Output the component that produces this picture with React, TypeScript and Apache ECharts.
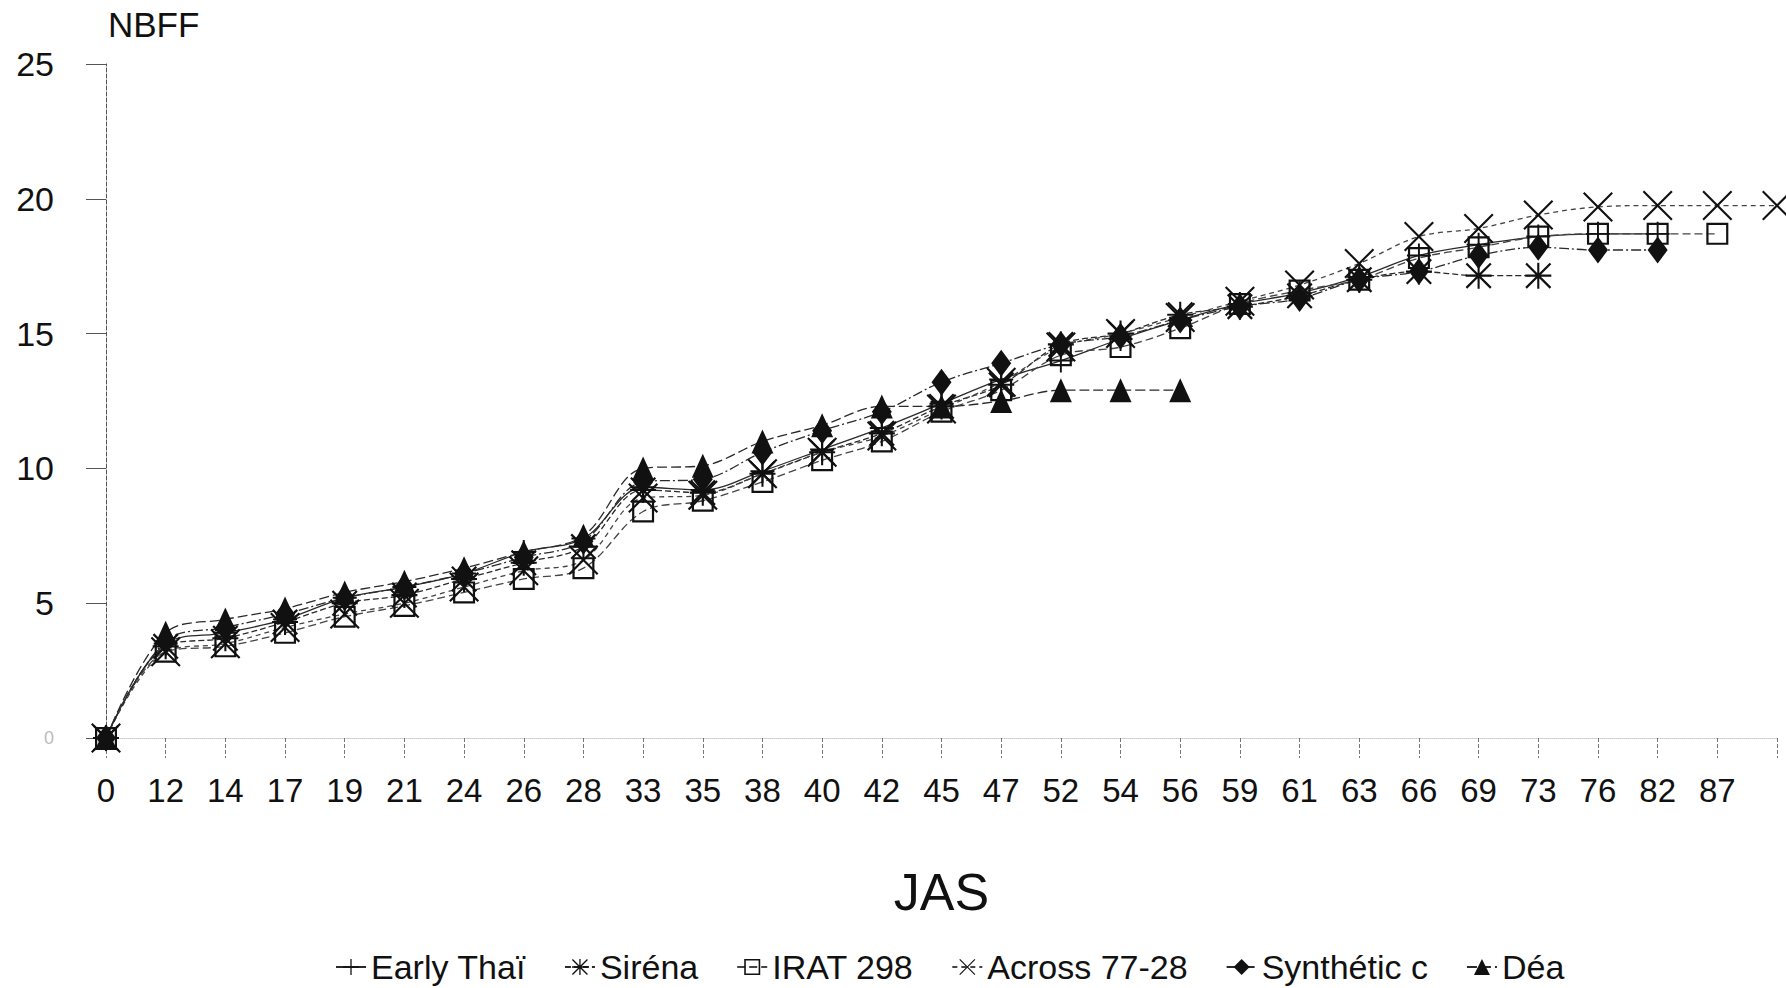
import React, { useEffect, useRef } from "react";
import * as echarts from "echarts";

const categories = ["0","12","14","17","19","21","24","26","28","33","35","38","40","42","45","47","52","54","56","59","61","63","66","69","73","76","82","87",""];
const yTicks = [0, 5, 10, 15, 20, 25];

const earlyThai = [0,3.5,3.9,4.4,5.2,5.6,6.1,6.9,7.4,9.3,9.2,9.9,10.7,11.5,12.4,13.3,14.0,14.8,15.5,16.1,16.5,17.1,17.9,18.3,18.6,18.7,18.7,null,null];
const sirena = [0,3.4,3.7,4.3,5.0,5.3,5.9,6.5,7.1,9.2,9.1,9.8,10.6,11.3,12.3,13.1,14.6,15.0,15.7,16.0,16.4,17.0,17.3,17.15,17.15,null,null,null,null];
const irat298 = [0,3.2,3.4,3.9,4.5,4.9,5.4,5.9,6.3,8.4,8.8,9.5,10.3,11.0,12.1,12.9,14.2,14.5,15.2,16.1,16.6,17.0,17.8,18.2,18.6,18.7,18.7,18.7,null];
const across7728 = [0,3.2,3.5,4.1,4.6,5.0,5.6,6.2,6.6,8.9,9.0,9.8,10.6,11.2,12.2,13.2,14.5,15.0,15.6,16.2,16.8,17.6,18.6,18.9,19.4,19.7,19.75,19.75,19.75];
const syntheticC = [0,3.6,4.1,4.6,5.2,5.6,6.1,6.7,7.3,9.5,9.6,10.6,11.4,12.1,13.2,13.9,14.6,14.9,15.5,16.0,16.3,17.0,17.3,17.9,18.2,18.1,18.1,null,null];
const dea = [0,3.9,4.4,4.8,5.4,5.8,6.3,6.9,7.5,10.0,10.1,11.0,11.6,12.3,12.3,12.5,12.9,12.9,12.9,null,null,null,null,null,null,null,null,null,null];

const FONT = "Liberation Sans, Arial, sans-serif";

const PLUS = "path://M4.6,0H5.4V4.6H10V5.4H5.4V10H4.6V5.4H0V4.6H4.6Z";
const STAR = "path://M4.6,0H5.4V10H4.6Z M0,4.6H10V5.4H0Z M0.6,0L10,9.4L9.4,10L0,0.6Z M9.4,0L10,0.6L0.6,10L0,9.4Z";
const SQUARE = "path://M0,0H10V10H0Z M1,1V9H9V1Z";
const CROSS = "path://M0,0.5L0.5,0L5,4.5L9.5,0L10,0.5L5.5,5L10,9.5L9.5,10L5,5.5L0.5,10L0,9.5L4.5,5Z";

export default function App() {
  const ref = useRef<HTMLDivElement>(null);
  useEffect(() => {
    if (!ref.current) return;
    const chart = echarts.init(ref.current, null, { renderer: "svg" });
    const mk = (name: string, data: (number | null)[], symbol: string, size: any, dash: any, color = "#2a2a2a") => ({
      name,
      type: "line",
      data,
      smooth: 0.35,
      symbol,
      symbolSize: size,
      showAllSymbol: true,
      connectNulls: false,
      lineStyle: { color, width: 1.3, type: dash },
      itemStyle: { color: "#111", borderWidth: 0 },
    });
    chart.setOption({
      animation: false,
      backgroundColor: "#fff",
      textStyle: { fontFamily: FONT },
      grid: { left: 106, right: 9, top: 64, bottom: 250, containLabel: false },
      graphic: [
        { type: "text", left: 108, top: 7, style: { text: "NBFF", fontSize: 35, fontFamily: FONT, fill: "#111" } },
      ],
      legend: {
        left: 330,
        top: 945,
        itemGap: 38,
        itemWidth: 30,
        itemHeight: 20,
        textStyle: { fontSize: 34, fontFamily: FONT, color: "#111" },
        data: ["Early Thaï", "Siréna", "IRAT 298", "Across 77-28", "Synthétic c", "Déa"],
      },
      xAxis: {
        type: "category",
        boundaryGap: false,
        data: categories,
        name: "JAS",
        nameLocation: "middle",
        nameGap: 128,
        nameTextStyle: { fontSize: 52, fontFamily: FONT, color: "#111" },
        axisLine: { show: true, lineStyle: { color: "#c8c8c8", type: "dotted", width: 1 } },
        axisTick: { show: true, length: 20, lineStyle: { color: "#777", type: "dashed", width: 1 } },
        axisLabel: { interval: 0, margin: 36, fontSize: 33, fontFamily: FONT, color: "#111" },
        splitLine: { show: false },
      },
      yAxis: {
        type: "value",
        min: 0,
        max: 25,
        interval: 5,
        axisLine: { show: true, lineStyle: { color: "#555", type: "dashed", width: 1 } },
        axisTick: { show: true, length: 20, lineStyle: { color: "#555", width: 1 } },
        axisLabel: {
          margin: 52,
          fontSize: 34,
          fontFamily: FONT,
          color: "#111",
          formatter: (v: number) => (v === 0 ? "{z|0}" : String(yTicks.includes(v) ? v : "")),
          rich: { z: { fontSize: 18, color: "#bbb", fontFamily: FONT } },
        },
        splitLine: { show: false },
      },
      series: [
        mk("Early Thaï", earlyThai, PLUS, 24, "solid"),
        mk("Siréna", sirena, STAR, 26, [6, 3]),
        mk("IRAT 298", irat298, SQUARE, 22, [8, 4], "#444"),
        mk("Across 77-28", across7728, CROSS, 30, [5, 4], "#444"),
        mk("Synthétic c", syntheticC, "diamond", [20, 27], [10, 3, 2, 3]),
        mk("Déa", dea, "triangle", [22, 24], [10, 4]),
      ],
    });
    return () => chart.dispose();
  }, []);
  return <div ref={ref} style={{ position: "fixed", left: 0, top: 0, width: 1786, height: 988 }} />;
}
